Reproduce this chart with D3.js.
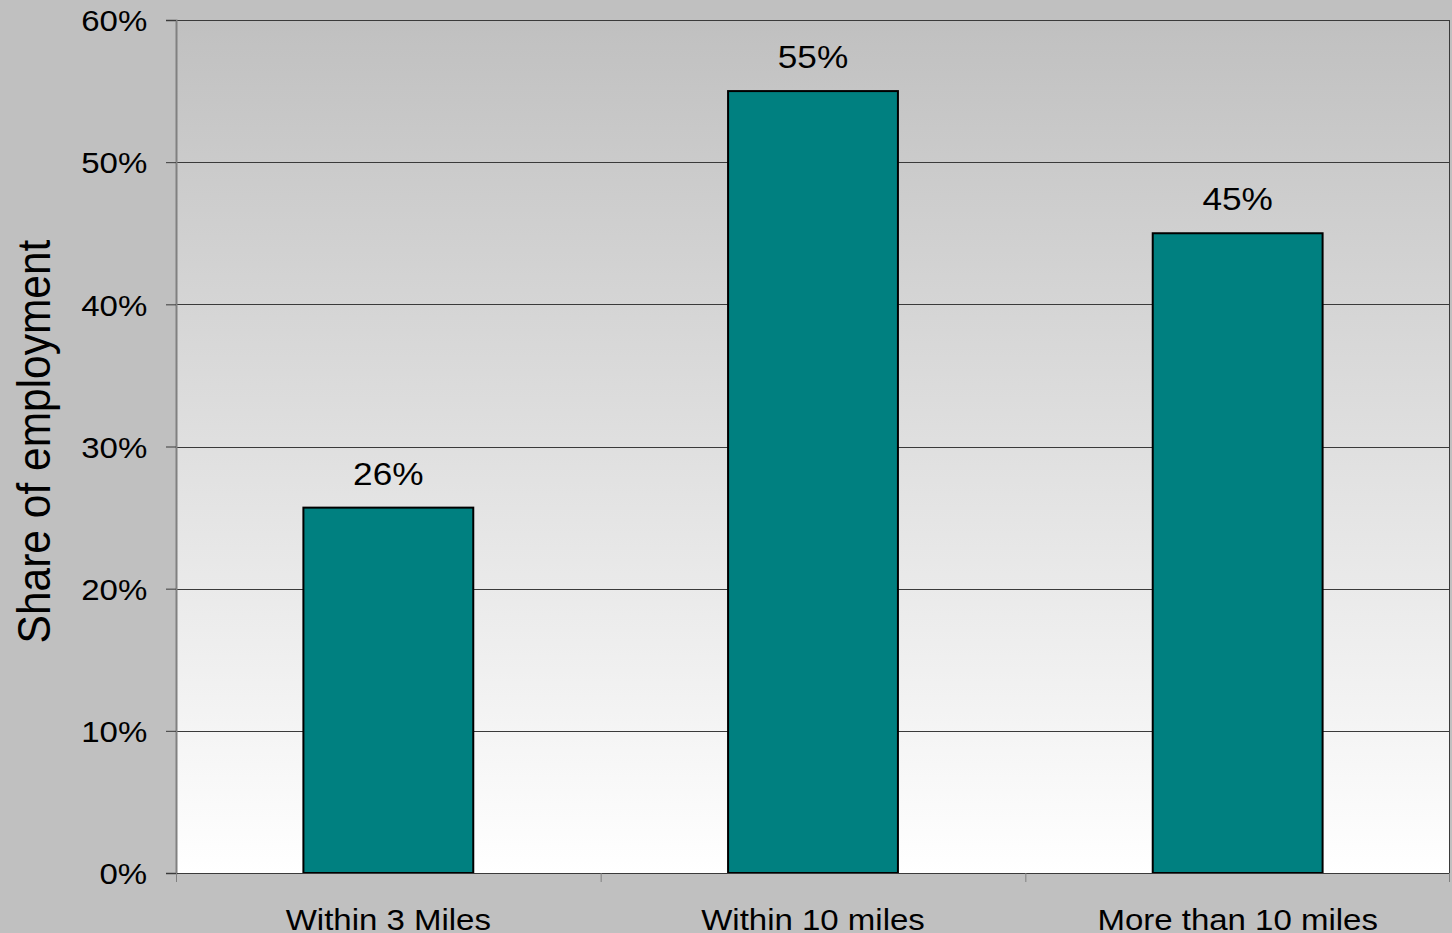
<!DOCTYPE html>
<html>
<head>
<meta charset="utf-8">
<script src="https://cdn.jsdelivr.net/npm/d3@7"></script>
<style>
  html, body { margin: 0; padding: 0; background: #c0c0c0; }
  svg { display: block; }
  text { font-family: "Liberation Sans", Arial, sans-serif; fill: #000; }
</style>
</head>
<body>
<svg id="chart" width="1452" height="933"></svg>
<script>
// Share of employment by distance
const categories = ["Within 3 Miles", "Within 10 miles", "More than 10 miles"];
const shares = [0.257, 0.55, 0.45];
const yTicks = [0, 0.1, 0.2, 0.3, 0.4, 0.5, 0.6];
const yTitle = "Share of employment";

const W = 1452, H = 933;
const margin = { top: 20, right: 2, bottom: 60, left: 176 };
const iw = W - margin.left - margin.right;
const ih = H - margin.top - margin.bottom;
const stretch = 1.1;  // glyphs are drawn slightly wide

const svg = d3.select("#chart");

svg.append("rect").attr("width", W).attr("height", H).attr("fill", "#c0c0c0");

const defs = svg.append("defs");
const grad = defs.append("linearGradient")
  .attr("id", "plotBg").attr("x1", 0).attr("y1", 0).attr("x2", 0).attr("y2", 1);
grad.append("stop").attr("offset", "0%").attr("stop-color", "#c0c0c0");
grad.append("stop").attr("offset", "100%").attr("stop-color", "#ffffff");

const g = svg.append("g").attr("transform", `translate(${margin.left},${margin.top})`);

const x = d3.scaleBand().domain(categories).range([0, iw]).paddingInner(0.6).paddingOuter(0.3);
const y = d3.scaleLinear().domain([0, 0.6]).range([ih, 0]);
const xOuter = d3.scaleBand().domain(categories).range([0, iw]);

// plot area background
g.append("rect").attr("x", 0).attr("y", 0).attr("width", iw).attr("height", ih)
  .attr("fill", "url(#plotBg)");

// horizontal gridlines
g.append("g").selectAll("line").data(yTicks.filter(d => d > 0)).join("line")
  .attr("x1", 0).attr("x2", iw)
  .attr("y1", d => Math.round(y(d)) + 0.5).attr("y2", d => Math.round(y(d)) + 0.5)
  .attr("stroke", "#3a3a3a").attr("stroke-width", 1);

// right border of plot area
g.append("line").attr("x1", iw - 0.5).attr("x2", iw - 0.5).attr("y1", 0).attr("y2", ih)
  .attr("stroke", "#3a3a3a");

// bars
g.append("g").selectAll("rect").data(shares).join("rect")
  .attr("x", (d, i) => x(categories[i]))
  .attr("y", d => y(d))
  .attr("width", x.bandwidth())
  .attr("height", d => ih - y(d))
  .attr("fill", "#008080")
  .attr("stroke", "#000").attr("stroke-width", 2);

// value labels
const fmt = d3.format(".0%");
g.append("g").selectAll("text").data(shares).join("text")
  .attr("transform", (d, i) => `translate(${x(categories[i]) + x.bandwidth() / 2},${y(d) - 23}) scale(${stretch},1)`)
  .attr("text-anchor", "middle")
  .attr("font-size", 32)
  .text(d => fmt(d));

// y axis
const yAxis = d3.axisLeft(y).tickValues(yTicks).tickFormat(d3.format(".0%")).tickSize(10).tickPadding(14);
const ya = g.append("g").attr("class", "y-axis").call(yAxis);
ya.select(".domain").attr("stroke", "#808080").attr("stroke-width", 2);
ya.selectAll(".tick line").attr("stroke", "#3a3a3a");
ya.selectAll(".tick text")
  .attr("font-size", 30)
  .attr("dy", "0.36em")
  .attr("transform", function () {
    const tx = +d3.select(this).attr("x");
    return `translate(${tx * (stretch - 1)},0) scale(${stretch},1)`;
  });

// x axis
const xa = g.append("g").attr("transform", `translate(0,${ih})`);
xa.append("line").attr("x1", 0).attr("x2", iw).attr("y1", 0.5).attr("y2", 0.5).attr("stroke", "#3a3a3a");
const boundaries = categories.map(c => xOuter(c)).concat([iw]);
xa.selectAll("line.tick").data(boundaries).join("line").attr("class", "tick")
  .attr("x1", d => Math.min(d, iw - 1) + 0.5).attr("x2", d => Math.min(d, iw - 1) + 0.5)
  .attr("y1", 0).attr("y2", 9).attr("stroke", "#808080");
xa.selectAll("text").data(categories).join("text")
  .attr("transform", d => `translate(${xOuter(d) + xOuter.bandwidth() / 2},57) scale(${stretch},1)`)
  .attr("text-anchor", "middle")
  .attr("font-size", 30)
  .text(d => d);

// y axis title
svg.append("text")
  .attr("transform", `translate(50,${margin.top + ih / 2 - 5}) scale(${stretch},1) rotate(-90)`)
  .attr("text-anchor", "middle")
  .attr("font-size", 42.5)
  .text(yTitle);
</script>
</body>
</html>
